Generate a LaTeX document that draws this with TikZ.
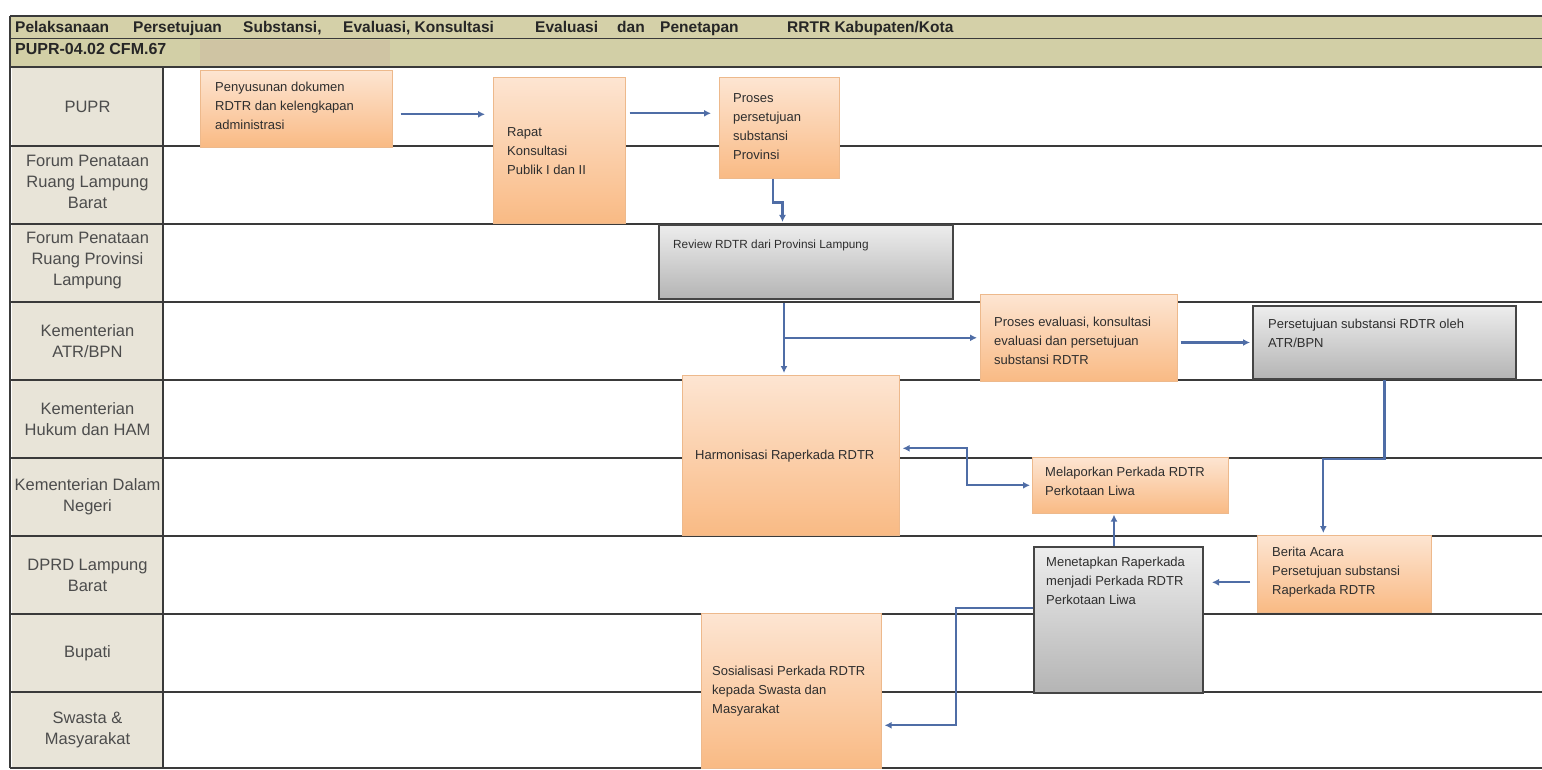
\documentclass[tikz,border=0pt]{standalone}
\usepackage{fontspec}
\setmainfont{Liberation Sans}
\usetikzlibrary{arrows.meta}
\definecolor{orTop}{HTML}{FDE5D2}
\definecolor{orBot}{HTML}{F9BA84}
\definecolor{orLine}{HTML}{EDB98C}
\definecolor{gyTop}{HTML}{EDEDED}
\definecolor{gyBot}{HTML}{B4B4B4}
\definecolor{gyLine}{HTML}{454545}
\definecolor{laneLine}{HTML}{3A3A3A}
\definecolor{labelFill}{HTML}{E8E4D8}
\definecolor{titleFill}{HTML}{D4D0A8}
\definecolor{subFill}{HTML}{D2CFA6}
\definecolor{subTan}{HTML}{CFC4A3}
\definecolor{arrowBlue}{HTML}{4F6DA6}
\definecolor{txt}{HTML}{2E2E2E}
\begin{document}
\begin{tikzpicture}[x=1pt,y=-1pt,
  orbox/.style={draw=orLine, line width=0.6pt, top color=orTop, bottom color=orBot, inner sep=0pt, anchor=north west},
  gybox/.style={draw=gyLine, line width=2pt, top color=gyTop, bottom color=gyBot, inner sep=0pt, anchor=north west},
  boxtext/.style={font=\fontsize{13}{19}\selectfont, text=txt, align=left, inner sep=0pt, anchor=north west},
  lanetext/.style={font=\fontsize{16.5}{21}\selectfont, text=black!70, align=center, inner sep=0pt},
  titletext/.style={font=\fontsize{15.5}{18}\bfseries\selectfont, text=black!85, inner sep=0pt, anchor=base west},
  flow/.style={draw=arrowBlue, line width=2.2pt, -{Latex[length=7pt,width=7pt]}},
  flowboth/.style={draw=arrowBlue, line width=2.2pt, {Latex[length=7pt,width=7pt]}-{Latex[length=7pt,width=7pt]}},
  lane/.style={draw=laneLine, line width=1.6pt}]
\useasboundingbox (0,0) rectangle (1542,770);
\fill[white] (0,0) rectangle (1542,770);
% header bars
\fill[titleFill] (10,16) rectangle (1542,39);
\fill[subFill] (10,39) rectangle (1542,67);
\fill[subTan] (200,40) rectangle (390,66);
\fill[labelFill] (12,67) rectangle (163,768);
\draw[lane] (10,16) -- (1542,16);
\draw[laneLine, line width=1pt] (10,39) -- (1542,39);
\draw[lane] (10,67) -- (1542,67);
\draw[lane] (10,16) -- (10,768);
\draw[lane] (163,67) -- (163,768);
\draw[lane] (10,768) -- (1542,768);
\foreach \yy in {146,224,302,380,458,536,614,692} {\draw[lane] (10,\yy) -- (1542,\yy);}
% title words
\node[titletext] (t1) at (15,33) {Pelaksanaan};
\node[titletext] (t2) at (133,33) {Persetujuan};
\node[titletext] (t3) at (243,33) {Substansi,};
\node[titletext] (t4) at (343,33) {Evaluasi, Konsultasi};
\node[titletext] (t6) at (535,33) {Evaluasi};
\node[titletext] (t7) at (617,33) {dan};
\node[titletext] (t8) at (660,33) {Penetapan};
\node[titletext] (t9) at (787,33) {RRTR Kabupaten/Kota};
\node[titletext, font=\fontsize{16}{18}\bfseries\selectfont] (code) at (15,55) {PUPR-04.02 CFM.67};
% lane labels
\node[lanetext] (l1) at (87.5,107) {PUPR};
\node[lanetext] (l2) at (87.5,182) {Forum Penataan\\Ruang Lampung\\Barat};
\node[lanetext] (l3) at (87.5,261) {Forum Penataan\\Ruang Provinsi\\Lampung};
\node[lanetext] (l4) at (87.5,341) {Kementerian\\ATR/BPN};
\node[lanetext] (l5) at (87.5,419) {Kementerian\\Hukum dan HAM};
\node[lanetext] (l6) at (87.5,497) {Kementerian Dalam\\Negeri};
\node[lanetext] (l7) at (87.5,575) {DPRD Lampung\\Barat};
\node[lanetext] (l8) at (87.5,653) {Bupati};
\node[lanetext] (l9) at (87.5,730) {Swasta \&\\Masyarakat};
% boxes
\node[orbox, minimum width=192pt, minimum height=77pt] (pen) at (200,70) {};
\node[orbox, minimum width=132pt, minimum height=146pt] (rapat) at (493,77) {};
\node[orbox, minimum width=120pt, minimum height=101pt] (proses) at (719,77) {};
\node[gybox, minimum width=294pt, minimum height=74pt] (review) at (658,224) {};
\node[orbox, minimum width=197pt, minimum height=87pt] (evalb) at (980,294) {};
\node[gybox, minimum width=263pt, minimum height=73pt] (setuju) at (1252,305) {};
\node[orbox, minimum width=217pt, minimum height=160pt] (harm) at (682,375) {};
\node[orbox, minimum width=196pt, minimum height=56pt] (lapor) at (1032,457) {};
\node[orbox, minimum width=174pt, minimum height=77pt] (berita) at (1257,535) {};
\node[gybox, minimum width=169pt, minimum height=146pt] (tetap) at (1033,546) {};
\node[orbox, minimum width=180pt, minimum height=155pt] (sosial) at (701,613) {};
% box texts
\node[boxtext] (penT) at (215,82) {Penyusunan dokumen\\RDTR dan kelengkapan\\administrasi};
\node[boxtext] (rapatT) at (507,127) {Rapat\\Konsultasi\\Publik I dan II};
\node[boxtext] (prosesT) at (733,93) {Proses\\persetujuan\\substansi\\Provinsi};
\node[boxtext, font=\fontsize{11.8}{17}\selectfont] (reviewT) at (673,240) {Review RDTR dari Provinsi Lampung};
\node[boxtext] (evalT) at (994,317) {Proses evaluasi, konsultasi\\evaluasi dan persetujuan\\substansi RDTR};
\node[boxtext] (setujuT) at (1268,319) {Persetujuan substansi RDTR oleh\\ATR/BPN};
\node[boxtext] (harmT) at (695,450) {Harmonisasi Raperkada RDTR};
\node[boxtext] (laporT) at (1045,467) {Melaporkan Perkada RDTR\\Perkotaan Liwa};
\node[boxtext] (beritaT) at (1272,547) {Berita Acara\\Persetujuan substansi\\Raperkada RDTR};
\node[boxtext] (tetapT) at (1046,557) {Menetapkan Raperkada\\menjadi Perkada RDTR\\Perkotaan Liwa};
\node[boxtext] (sosialT) at (712,666) {Sosialisasi Perkada RDTR\\kepada Swasta dan\\Masyarakat};
% connectors
\draw[flow] ([xshift=8pt,yshift=-5.5pt]pen.east) -- ([xshift=-8pt,yshift=-5.5pt]pen.east -| rapat.west);
\draw[flow] ([xshift=4pt,yshift=14.5pt]proses.west -| rapat.east) -- ([xshift=-8pt,yshift=14.5pt]proses.west);
\draw[flow] ([xshift=-6pt]proses.south) -- ++(0,24) -| ([xshift=-23.5pt,yshift=2pt]review.north);
\draw[flow] ([xshift=-22pt,yshift=-3pt]review.south) -- ([xshift=-22pt,yshift=2pt]review.south |- harm.north);
\draw[flow] ([xshift=-22pt]review.south |- evalb.west) -- ([xshift=-3pt]evalb.west);
\draw[flow] ([xshift=3pt]setuju.west -| evalb.east) -- ([xshift=-2pt]setuju.west);
\draw[flow] (setuju.south) -- ++(0,79) -| ([xshift=-21pt,yshift=2pt]berita.north);
\draw[flow] ([xshift=-7pt,yshift=-8.5pt]berita.west) -- ([xshift=8pt,yshift=-8.5pt]berita.west -| tetap.east);
\draw[flow] ([xshift=-4.5pt]tetap.north) -- ([xshift=-4.5pt,yshift=-1pt]tetap.north |- lapor.south);
\draw[flowboth] ([xshift=3pt,yshift=7pt]harm.east) -| ([xshift=-65pt]lapor.west) -- ([xshift=-2pt]lapor.west);
\draw[flow] ([yshift=12pt]tetap.west) -| ([xshift=74pt,yshift=-34.5pt]sosial.east) -- ([xshift=3pt,yshift=-34.5pt]sosial.east);
\end{tikzpicture}
\end{document}
